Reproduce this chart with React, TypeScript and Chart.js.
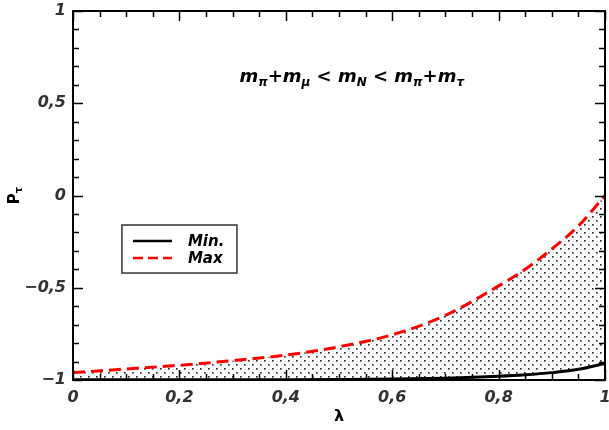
import React, { useEffect, useRef } from "react";
import { Chart, registerables } from "chart.js";

Chart.register(...registerables);

const lambdaValues = [0, 0.1, 0.2, 0.3, 0.4, 0.5, 0.6, 0.7, 0.8, 0.85, 0.9, 0.95, 1.0];
const maxValues = [-0.96, -0.94, -0.92, -0.895, -0.865, -0.82, -0.755, -0.65, -0.49, -0.4, -0.29, -0.165, 0.0];
const minValues = [-0.999, -0.999, -0.999, -0.998, -0.998, -0.997, -0.995, -0.99, -0.98, -0.972, -0.96, -0.942, -0.91];
const xTicks = [0, 0.2, 0.4, 0.6, 0.8, 1];
const yTicks = [-1, -0.5, 0, 0.5, 1];
const legendLabels = ["Min.", "Max"];

const FONT = "'DejaVu Sans'";

function fmt(v: number): string {
  const r = Math.round(v * 100) / 100;
  let s = String(Math.abs(r)).replace(".", ",");
  if (r < 0) s = "\u2212" + s;
  return s;
}

function makePattern(): CanvasPattern | string {
  const c = document.createElement("canvas");
  c.width = 8;
  c.height = 8;
  const g = c.getContext("2d");
  if (!g) return "rgba(0,0,0,0.2)";
  g.fillStyle = "#888";
  g.fillRect(0, 0, 2, 2);
  g.fillRect(4, 4, 2, 2);
  g.fillStyle = "#222";
  g.fillRect(0, 0, 1, 1);
  g.fillRect(4, 4, 1, 1);
  const p = g.createPattern(c, "repeat");
  return p || "rgba(0,0,0,0.2)";
}

const framePlugin = {
  id: "framePlugin",
  afterDatasetsDraw(chart: any) {
    const ctx = chart.ctx as CanvasRenderingContext2D;
    const { left, right, top, bottom } = chart.chartArea;
    const xs = chart.scales.x;
    const ys = chart.scales.y;
    ctx.save();
    ctx.strokeStyle = "#000";
    ctx.lineWidth = 1.5;
    for (let i = 0; i <= 20; i++) {
      const v = i * 0.05;
      const px = Math.round(xs.getPixelForValue(v)) + 0.5;
      const major = i % 4 === 0;
      const len = major ? 10 : 6;
      ctx.beginPath();
      ctx.moveTo(px, bottom);
      ctx.lineTo(px, bottom - len);
      ctx.moveTo(px, top);
      ctx.lineTo(px, top + len);
      ctx.stroke();
    }
    for (let i = 0; i <= 20; i++) {
      const v = -1 + i * 0.1;
      const py = Math.round(ys.getPixelForValue(v)) + 0.5;
      const major = i % 5 === 0;
      const len = major ? 10 : 6;
      ctx.beginPath();
      ctx.moveTo(left, py);
      ctx.lineTo(left + len, py);
      ctx.moveTo(right, py);
      ctx.lineTo(right - len, py);
      ctx.stroke();
    }
    ctx.lineWidth = 2;
    ctx.strokeRect(left, top, right - left, bottom - top);

    // title annotation
    const segs: [string, boolean][] = [
      ["m", false], ["\u03c0", true], ["+m", false], ["\u03bc", true],
      [" < m", false], ["N", true], [" < m", false], ["\u03c0", true],
      ["+m", false], ["\u03c4", true],
    ];
    const bigF = `italic bold 18px ${FONT}`;
    const smallF = `italic bold 12px ${FONT}`;
    let total = 0;
    for (const [t, sub] of segs) {
      ctx.font = sub ? smallF : bigF;
      total += ctx.measureText(t).width;
    }
    let x = xs.getPixelForValue(0.524) - total / 2;
    const baseY = ys.getPixelForValue(0.615);
    ctx.fillStyle = "#000";
    ctx.textBaseline = "alphabetic";
    ctx.textAlign = "left";
    for (const [t, sub] of segs) {
      ctx.font = sub ? smallF : bigF;
      ctx.fillText(t, x, baseY + (sub ? 4 : 0));
      x += ctx.measureText(t).width;
    }

    // legend
    const lx = xs.getPixelForValue(0.092);
    const ly = ys.getPixelForValue(-0.16);
    const lw = 115;
    const lh = 48;
    ctx.fillStyle = "#fff";
    ctx.fillRect(lx, ly, lw, lh);
    ctx.strokeStyle = "#333";
    ctx.lineWidth = 1.5;
    ctx.strokeRect(lx, ly, lw, lh);
    const colors = ["#000", "#ff0000"];
    legendLabels.forEach((lab, i) => {
      const yy = ly + 16 + i * 17;
      ctx.strokeStyle = colors[i];
      ctx.lineWidth = 2.5;
      ctx.setLineDash(i === 1 ? [10, 5] : []);
      ctx.beginPath();
      ctx.moveTo(lx + 11, yy);
      ctx.lineTo(lx + 50, yy);
      ctx.stroke();
      ctx.setLineDash([]);
      ctx.fillStyle = "#000";
      ctx.font = `italic bold 15px ${FONT}`;
      ctx.textBaseline = "middle";
      ctx.fillText(lab, lx + 66, yy + 1);
    });

    // axis titles
    ctx.fillStyle = "#000";
    ctx.font = `bold 16px ${FONT}`;
    ctx.textAlign = "center";
    ctx.textBaseline = "middle";
    ctx.fillText("\u03bb", (left + right) / 2, 417);
    ctx.save();
    ctx.translate(15, (top + bottom) / 2);
    ctx.rotate(-Math.PI / 2);
    ctx.font = `bold 15px ${FONT}`;
    const wP = ctx.measureText("P").width;
    ctx.font = `bold 10px ${FONT}`;
    const wT = ctx.measureText("\u03c4").width;
    const sx = -(wP + wT) / 2;
    ctx.textAlign = "left";
    ctx.font = `bold 15px ${FONT}`;
    ctx.fillText("P", sx, 0);
    ctx.font = `bold 10px ${FONT}`;
    ctx.fillText("\u03c4", sx + wP, 4);
    ctx.restore();
    ctx.restore();
  },
};

const zeroPad = (s: any) => {
  s.paddingTop = 0;
  s.paddingBottom = 0;
  s.paddingLeft = 0;
  s.paddingRight = 0;
};

export default function App() {
  const ref = useRef<HTMLCanvasElement | null>(null);
  useEffect(() => {
    document.body.style.margin = "0";
    if (!ref.current) return;
    const pattern = makePattern();
    const chart = new Chart(ref.current, {
      type: "line",
      data: {
        datasets: [
          {
            label: legendLabels[0],
            data: lambdaValues.map((x, i) => ({ x, y: minValues[i] })),
            borderColor: "#000",
            borderWidth: 3,
            pointRadius: 0,
            cubicInterpolationMode: "monotone",
            fill: false,
          },
          {
            label: legendLabels[1],
            data: lambdaValues.map((x, i) => ({ x, y: maxValues[i] })),
            borderColor: "#ff0000",
            borderWidth: 3,
            borderDash: [12, 6],
            pointRadius: 0,
            cubicInterpolationMode: "monotone",
            fill: { target: 0 },
            backgroundColor: pattern as any,
          },
        ],
      },
      options: {
        animation: false,
        responsive: false,
        maintainAspectRatio: false,
        layout: { padding: { top: 11, right: 4, left: 0, bottom: 0 } },
        plugins: {
          legend: { display: false },
          tooltip: { enabled: false },
          filler: { propagate: false },
        },
        scales: {
          x: {
            type: "linear",
            min: 0,
            max: 1,
            afterBuildTicks: (s: any) => {
              s.ticks = xTicks.map((v) => ({ value: v }));
            },
            afterFit: (s: any) => {
              s.height = 50;
              zeroPad(s);
            },
            ticks: {
              callback: (v: any) => fmt(Number(v)),
              color: "#333",
              font: { family: FONT, size: 16, style: "italic", weight: "bold" },
              padding: 8,
              maxRotation: 0,
            },
            grid: { display: false, drawTicks: false },
            border: { display: false },
          },
          y: {
            type: "linear",
            min: -1,
            max: 1,
            afterBuildTicks: (s: any) => {
              s.ticks = yTicks.map((v) => ({ value: v }));
            },
            afterFit: (s: any) => {
              s.width = 73;
              zeroPad(s);
            },
            ticks: {
              callback: (v: any) => fmt(Number(v)),
              color: "#333",
              font: { family: FONT, size: 16, style: "italic", weight: "bold" },
              padding: 7,
            },
            grid: { display: false, drawTicks: false },
            border: { display: false },
          },
        },
      },
      plugins: [framePlugin],
    });
    return () => chart.destroy();
  }, []);
  return (
    <div style={{ width: 609, height: 430 }}>
      <canvas ref={ref} width={609} height={430} style={{ display: "block" }} />
    </div>
  );
}
